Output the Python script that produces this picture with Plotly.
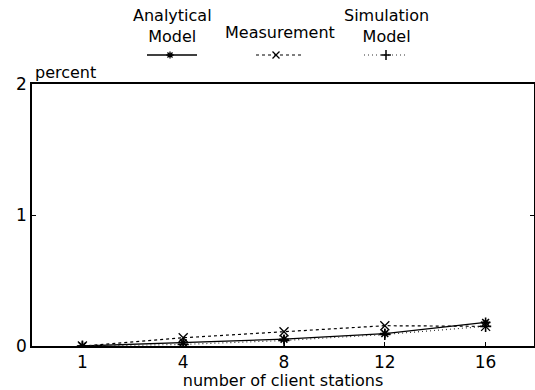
import plotly.graph_objects as go

W, H = 535, 390
stations = ["1", "4", "8", "12", "16"]
analytical = [0.0, 0.025, 0.052, 0.095, 0.18]
measurement = [0.0, 0.063, 0.109, 0.155, 0.15]
simulation = [0.0, 0.012, 0.042, 0.088, 0.15]
y_ticks = [0, 1, 2]
legend_names = ["Analytical<br>Model", "Measurement", "Simulation<br>Model"]

FONT = "DejaVu Sans, Arial, sans-serif"
pos = list(range(len(stations)))

fig = go.Figure()
fig.add_trace(go.Scatter(x=pos, y=analytical, mode="lines+markers",
                         line=dict(color="black", width=1.3),
                         marker=dict(symbol="asterisk-open", size=8, color="black",
                                     line=dict(width=1.6, color="black")),
                         showlegend=False))
fig.add_trace(go.Scatter(x=pos, y=measurement, mode="lines+markers",
                         line=dict(color="black", width=1.2, dash="3px,3px"),
                         marker=dict(symbol="x-thin-open", size=9, color="black",
                                     line=dict(width=1.3, color="black")),
                         showlegend=False))
fig.add_trace(go.Scatter(x=pos, y=simulation, mode="lines+markers",
                         line=dict(color="#333", width=1.2, dash="1px,3px"),
                         marker=dict(symbol="cross-thin-open", size=8, color="black",
                                     line=dict(width=1.6, color="black")),
                         showlegend=False))

# legend samples drawn on a separate pixel-coordinate axis spanning the page
leg_x = [172, 280, 386]
leg_mark = [170, 276, 386]
leg_half = [25, 24, 22]
styles = [
    (dict(color="black", width=1.3), dict(symbol="asterisk-open", size=6, line=dict(width=1.3, color="black"))),
    (dict(color="black", width=1.2, dash="3px,3px"), dict(symbol="x-thin-open", size=7, line=dict(width=1.3, color="black"))),
    (dict(color="#333", width=1.2, dash="1px,3px"), dict(symbol="cross-thin-open", size=7, line=dict(width=1.5, color="black"))),
]
for cx, mx, hw, (ln, mk) in zip(leg_x, leg_mark, leg_half, styles):
    fig.add_trace(go.Scatter(x=[cx - hw, mx, cx + hw], y=[55, 55, 55],
                             mode="lines", line=ln, xaxis="x2", yaxis="y2",
                             showlegend=False, hoverinfo="skip"))
    fig.add_trace(go.Scatter(x=[mx], y=[55], mode="markers", marker=dict(color="black", **mk),
                             xaxis="x2", yaxis="y2", showlegend=False, hoverinfo="skip"))

annotations = []
for cx, name in zip(leg_x, legend_names):
    annotations.append(dict(x=cx, y=48 if "<br>" in name else 44, xref="x2", yref="y2",
                            text=name, showarrow=False, xanchor="center", yanchor="bottom",
                            font=dict(family=FONT, size=16, color="black")))
annotations.append(dict(x=33 / W, y=(H - 84) / H, xref="paper", yref="paper",
                        text="percent", showarrow=False, xanchor="left", yanchor="bottom",
                        font=dict(family=FONT, size=16, color="black")))

fig.update_layout(
    width=W, height=H,
    margin=dict(l=0, r=0, t=0, b=0, autoexpand=False),
    paper_bgcolor="white", plot_bgcolor="rgba(0,0,0,0)",
    font=dict(family=FONT, size=17, color="black"),
    xaxis=dict(domain=[32 / W, 534 / W], range=[-0.5, 4.48], automargin=False,
               tickmode="array", tickvals=pos, ticktext=stations,
               ticks="inside", ticklen=4, tickcolor="black",
               showline=True, linecolor="black", linewidth=1.5, mirror=True,
               showgrid=False, zeroline=False,
               tickfont=dict(family=FONT, size=17),
               title=dict(text="number of client stations", standoff=6,
                          font=dict(family=FONT, size=16))),
    yaxis=dict(domain=[(H - 346) / H, (H - 84) / H], range=[0, 2], automargin=False,
               tickmode="array", tickvals=y_ticks, ticktext=[str(v) for v in y_ticks],
               ticks="inside", ticklen=4, tickcolor="black",
               showline=True, linecolor="black", linewidth=1.5, mirror="ticks",
               showgrid=False, zeroline=False,
               tickfont=dict(family=FONT, size=17)),
    xaxis2=dict(domain=[0, 1], range=[0, W], visible=False, anchor="y2", automargin=False),
    yaxis2=dict(domain=[0, 1], range=[H, 0], visible=False, anchor="x2", automargin=False),
    annotations=annotations,
)

fig.write_html("out.html")
